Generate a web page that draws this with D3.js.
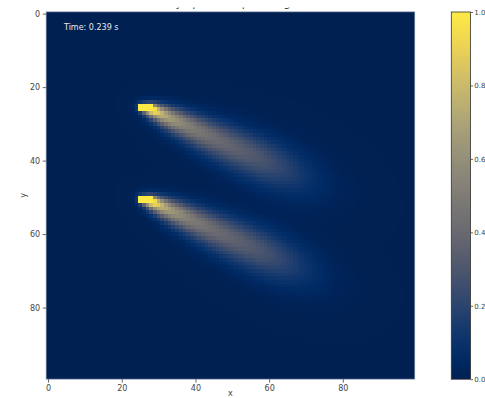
<!DOCTYPE html>
<html>
<head>
<meta charset="utf-8">
<script src="https://cdn.jsdelivr.net/npm/d3@7"></script>
<style>
  body { margin: 0; background: #fff; }
  text { font-family: "DejaVu Sans", sans-serif; }
</style>
</head>
<body>
<svg id="chart" width="485" height="398"></svg>
<script>
// Simulation grid and emission sources (cell indices)
const gridSize = 100;
const sourceCol = [25, 25];
const sourceRow = [25, 50];
const sourceWidth = [4, 4];
const sourceHeight = [2, 2];

// Transport parameters (cells, seconds)
const windSpeed = 190;
const windAngle = 24.7;        // degrees below the +x axis
const diffusivityAlong = 160;  // along the wind
const diffusivityCross = 50;   // across the wind
const emission = 84;
const elapsed = 0.239;

// Axis ticks
const xTicks = [0, 20, 40, 60, 80];
const yTicks = [0, 20, 40, 60, 80];
const colorTicks = [0.0, 0.2, 0.4, 0.6, 0.8, 1.0];
const titleText = "Dye plumes spreading in wind";

// Concentration field: continuous release from each source cell,
// advected by a uniform wind and spread by (anisotropic) diffusion.
function computeField() {
  const th = windAngle * Math.PI / 180;
  const cs = Math.cos(th), sn = Math.sin(th);
  const steps = 160;
  const ages = [], weights = [];
  for (let k = 0; k < steps; k++) {
    const f = (k + 0.5) / steps;
    ages.push(elapsed * f * f);
    weights.push(elapsed * 2 * f / steps);
  }
  const cells = [];
  for (let s = 0; s < sourceCol.length; s++) {
    for (let a = 0; a < sourceWidth[s]; a++)
      for (let b = 0; b < sourceHeight[s]; b++)
        cells.push([sourceCol[s] + a, sourceRow[s] + b]);
  }
  const isSource = new Set(cells.map(c => c[0] + "," + c[1]));
  const norm = 4 * Math.PI * Math.sqrt(diffusivityAlong * diffusivityCross);
  const field = [];
  for (let j = 0; j < gridSize; j++) {
    for (let i = 0; i < gridSize; i++) {
      let c = 0;
      if (isSource.has(i + "," + j)) {
        c = 1;
      } else {
        for (const [sx, sy] of cells) {
          const dx = i - sx, dy = j - sy;
          const along = dx * cs + dy * sn;
          const cross = -dx * sn + dy * cs;
          for (let k = 0; k < steps; k++) {
            const t = ages[k];
            const ea = along - windSpeed * t;
            const r2 = ea * ea / (4 * diffusivityAlong * t) + cross * cross / (4 * diffusivityCross * t);
            if (r2 > 30) continue;
            c += emission * weights[k] * Math.exp(-r2) / (norm * t);
          }
        }
        c = Math.min(1, c);
      }
      field.push({ col: i, row: j, value: c });
    }
  }
  return field;
}

const svg = d3.select("#chart");
const plot = { left: 46.2, right: 414.7, top: 11.8, bottom: 379.2 };

const x = d3.scaleLinear().domain([-0.5, gridSize - 0.5]).range([plot.left, plot.right]);
const y = d3.scaleLinear().domain([-0.5, gridSize - 0.5]).range([plot.top, plot.bottom]);
const color = d3.scaleSequential(d3.interpolateCividis).domain([0, 1]);

// Title (partly above the visible area)
svg.append("clipPath").attr("id", "titleClip")
  .append("rect").attr("x", 0).attr("y", 7.6).attr("width", 485).attr("height", 4);
svg.append("text")
  .attr("clip-path", "url(#titleClip)")
  .attr("x", 167).attr("y", 7)
  .attr("font-size", 11).attr("fill", "#333")
  .text(titleText);

// Heatmap cells, snapped to whole pixels so neighbours meet without seams
const field = computeField();
const px = v => Math.round(x(v));
const py = v => Math.round(y(v));
svg.append("g").attr("shape-rendering", "crispEdges").selectAll("rect")
  .data(field)
  .join("rect")
  .attr("x", d => px(d.col - 0.5))
  .attr("y", d => py(d.row - 0.5))
  .attr("width", d => px(d.col + 0.5) - px(d.col - 0.5))
  .attr("height", d => py(d.row + 0.5) - py(d.row - 0.5))
  .attr("fill", d => color(d.value));

svg.append("rect")
  .attr("x", plot.left).attr("y", plot.top)
  .attr("width", plot.right - plot.left).attr("height", plot.bottom - plot.top)
  .attr("fill", "none").attr("stroke", "#8596ad").attr("stroke-width", 0.8);

// Axes
function styleAxis(g) {
  g.select(".domain").remove();
  g.selectAll(".tick line").attr("stroke", "#444").attr("stroke-width", 0.8);
  g.selectAll(".tick text").attr("fill", "#444").attr("font-size", 8)
    .attr("font-family", "DejaVu Sans, sans-serif");
}
svg.append("g")
  .attr("transform", `translate(0,${plot.bottom})`)
  .call(d3.axisBottom(x).tickValues(xTicks).tickSize(3.5).tickPadding(2.5).tickFormat(d3.format("d")))
  .call(styleAxis);
svg.append("g")
  .attr("transform", `translate(${plot.left},0)`)
  .call(d3.axisLeft(y).tickValues(yTicks).tickSize(3.5).tickPadding(2.5).tickFormat(d3.format("d")))
  .call(styleAxis);

svg.append("text").attr("x", (plot.left + plot.right) / 2).attr("y", 396)
  .attr("text-anchor", "middle").attr("font-size", 8).attr("fill", "#444").text("x");
svg.append("text")
  .attr("transform", `translate(26,${(plot.top + plot.bottom) / 2}) rotate(-90)`)
  .attr("text-anchor", "middle").attr("font-size", 8).attr("fill", "#444").text("y");

// Elapsed time label
svg.append("text").attr("x", 64).attr("y", 29.5)
  .attr("font-size", 8).attr("fill", "#e6e9ef")
  .text(`Time: ${elapsed.toFixed(3)} s`);

// Colorbar
const cb = { left: 451.3, right: 470.6, top: 12, bottom: 379.2 };
const cbScale = d3.scaleLinear().domain([0, 1]).range([cb.bottom, cb.top]);
const grad = svg.append("defs").append("linearGradient")
  .attr("id", "cbGrad").attr("x1", 0).attr("y1", 1).attr("x2", 0).attr("y2", 0);
d3.range(0, 1.0001, 0.05).forEach(t => {
  grad.append("stop").attr("offset", t).attr("stop-color", color(t));
});
svg.append("rect")
  .attr("x", cb.left).attr("y", cb.top)
  .attr("width", cb.right - cb.left).attr("height", cb.bottom - cb.top)
  .attr("fill", "url(#cbGrad)").attr("stroke", "#333").attr("stroke-width", 0.8);
svg.append("g")
  .attr("transform", `translate(${cb.right},0)`)
  .call(d3.axisRight(cbScale).tickValues(colorTicks).tickSize(2.5).tickPadding(1.2).tickFormat(d3.format(".1f")))
  .call(styleAxis)
  .selectAll(".tick text").attr("font-size", 7);
</script>
</body>
</html>
